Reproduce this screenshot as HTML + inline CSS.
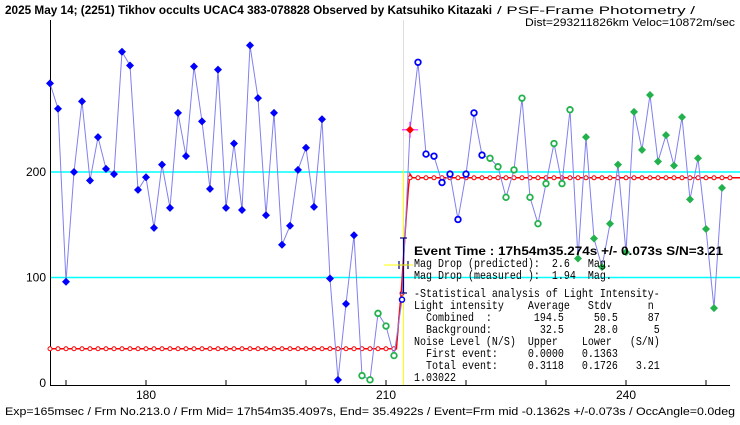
<!DOCTYPE html>
<html><head><meta charset="utf-8"><style>
html,body{margin:0;padding:0;background:#fff;}
svg{display:block;}
text{font-family:"Liberation Sans","Noto Sans CJK JP",sans-serif;}
.mono{font-family:"Liberation Mono","Noto Sans CJK JP",monospace;font-size:10px;fill:#000;white-space:pre;}
</style></head><body>
<svg id="chart" width="740" height="425" viewBox="0 0 740 425" xmlns="http://www.w3.org/2000/svg">
<rect x="0" y="0" width="740" height="425" fill="#fff"/>
<text x="5" y="14" font-size="12" font-weight="bold" textLength="487" lengthAdjust="spacingAndGlyphs">2025 May 14; (2251) Tikhov occults UCAC4 383-078828 Observed by Katsuhiko Kitazaki</text>
<text x="497" y="14" font-size="11" textLength="198" lengthAdjust="spacingAndGlyphs">/ PSF-Frame Photometry /</text>
<text x="525" y="26" font-size="11" textLength="210" lengthAdjust="spacingAndGlyphs">Dist=293211826km Veloc=10872m/sec</text>
<g id="plot"></g>
<text x="5" y="415" font-size="11" textLength="730" lengthAdjust="spacingAndGlyphs">Exp=165msec / Frm No.213.0 / Frm Mid= 17h54m35.4097s, End= 35.4922s / Event=Frm mid -0.1362s +/-0.073s / OccAngle=0.0deg</text>
</svg>
<script>
const frames = [];
for (let f = 168; f <= 253; f++) frames.push(f);
const intensity = [284,260,96,200,267,192,233,203,198,314,301,183,195,147,207,166,256,215,300,248,184,297,166,227,164,320,270,159,256,131,149,202,223,167,250,99,3,75,140,7,3,66,54,26,79,240,304,217,215,190,198,155,198,256,216,213,205,176,202,270,176,151,189,227,189,259,118,233,137,110,151,207,124,257,221,273,210,235,206,252,174,213,146,71,185];
const markerKind = [];
for (let i = 0; i < intensity.length; i++) {
  let k = 'blue-filled';
  if (i >= 39 && i <= 43) k = 'green-open';
  else if (i === 44) k = 'blue-small';
  else if (i === 45) k = 'red-filled';
  else if (i >= 46 && i <= 54) k = 'blue-open';
  else if (i >= 55 && i <= 65) k = 'green-open';
  else if (i >= 66) k = 'green-filled';
  markerKind.push(k);
}
const backgroundLevel = 32.5;
const upperLevel = 194.5;
const stepFrames = [211.3,211.6,211.9,212.2,212.5,212.8,213.0,213.3];
const stepValues = [32.5,60,85,120,155,185,198,194.5];
const refLines = [100,200];
const yTicks = [0,100,200];
const xTicks = [170,180,190,200,210,220,230,240,250];
const xLabels = [180,210,240];

const X = f => 50 + (f - 168) * 8;
const Y = v => 383 - 1.055 * v;
const NS = 'http://www.w3.org/2000/svg';
const g = document.getElementById('plot');
function el(tag, attrs, parent) {
  const e = document.createElementNS(NS, tag);
  for (const k in attrs) e.setAttribute(k, attrs[k]);
  (parent || g).appendChild(e);
  return e;
}
refLines.forEach(v => {
  const l = el('line', {x1:50, x2:740, y1:Y(v), y2:Y(v), stroke:'#00ffff', 'stroke-width':1.5});
  
  
});
const ev = el('line', {x1:403.5, x2:403.5, y1:20, y2:385, stroke:'#dddddd', 'stroke-width':1});


const evy = el('line', {x1:403.5, x2:403.5, y1:170, y2:385, stroke:'#ffff00', 'stroke-width':1});


const ya = el('line', {x1:50.5, x2:50.5, y1:20, y2:385, stroke:'#000', 'stroke-width':1});


const xa = el('line', {x1:50, x2:730, y1:385.5, y2:385.5, stroke:'#000', 'stroke-width':1});


xTicks.forEach(f => {
  const t = el('line', {x1:X(f), x2:X(f), y1:380, y2:385, stroke:'#000'});
  
  
});
xLabels.forEach(f => {
  const t = el('text', {x:X(f), y:399, 'font-size':12, 'text-anchor':'middle'});
  t.textContent = f;
  
  
});
yTicks.forEach(v => {
  const t = el('text', {x:46, y:Y(v)+4, 'font-size':12, 'text-anchor':'end'});
  t.textContent = v;
  
  
});
const mpts = [[X(frames[0]), Y(backgroundLevel)]];
stepFrames.forEach((f, i) => mpts.push([X(f), Y(stepValues[i])]));
mpts.push([740, Y(upperLevel)]);
const model = el('polyline', {points: mpts.map(p => p.join(',')).join(' '), fill:'none', stroke:'#ff0000', 'stroke-width':1.5});


frames.forEach(f => {
  let v = f < 212 ? backgroundLevel : (f === 212 ? 85 : upperLevel);
  const c = el('circle', {cx:X(f), cy:Y(v), r:2, fill:'#fff', stroke:'#ff0000', 'stroke-width':1});
  
  
});
const dl = el('polyline', {points: intensity.map((v, i) => X(frames[i]) + ',' + Y(v)).join(' '), fill:'none', stroke:'#8080f0', 'stroke-width':1});


const eb = el('g', {stroke:'#000080', 'stroke-width':1.2});


el('line', {x1:403.5, x2:403.5, y1:238, y2:293}, eb);
el('line', {x1:400, x2:407, y1:238, y2:238}, eb);
el('line', {x1:400, x2:407, y1:293, y2:293}, eb);
el('line', {x1:399, x2:408, y1:265, y2:265}, eb);
el('line', {x1:399, x2:399, y1:261, y2:269}, eb);
el('line', {x1:408, x2:408, y1:261, y2:269}, eb);
const yh = el('line', {x1:384, x2:413, y1:265, y2:265, stroke:'#ffff00', 'stroke-width':1});


function diamond(cx, cy, r) { return `${cx},${cy-r} ${cx+r},${cy} ${cx},${cy+r} ${cx-r},${cy}`; }
intensity.forEach((v, i) => {
  const cx = X(frames[i]), cy = Y(v), k = markerKind[i];
  let m;
  if (k === 'blue-filled') m = el('polygon', {points: diamond(cx, cy, 4), fill:'#0000ff'});
  else if (k === 'green-filled') m = el('polygon', {points: diamond(cx, cy, 4), fill:'#22b14c'});
  else if (k === 'green-open') m = el('circle', {cx, cy, r:2.8, fill:'#fff', stroke:'#22b14c', 'stroke-width':1.8});
  else if (k === 'blue-open') m = el('circle', {cx, cy, r:2.8, fill:'#fff', stroke:'#0000ff', 'stroke-width':1.8});
  else if (k === 'blue-small') m = el('circle', {cx, cy, r:2.5, fill:'#fff', stroke:'#0000ff', 'stroke-width':1.5});
  else {
    const h = el('g', {stroke:'#ff00ff', 'stroke-width':1});
    
    
    el('line', {x1:cx-8, x2:cx+8, y1:cy, y2:cy}, h);
    el('line', {x1:cx, x2:cx, y1:cy-8, y2:cy+8}, h);
    m = el('polygon', {points: diamond(cx, cy, 4), fill:'#ff0000'});
  }
  
  
});
const ev1 = el('text', {x:414, y:255, 'font-size':12, 'font-weight':'bold', textLength:309, lengthAdjust:'spacingAndGlyphs', 'font-family':'"Liberation Sans", sans-serif'});
ev1.textContent = 'Event Time : 17h54m35.274s  +/- 0.073s  S/N=3.21';


const lines = [
 ['Mag Drop (predicted):  2.6   Mag.', 267],
 ['Mag Drop (measured ):  1.94  Mag.', 279],
 ['-Statistical analysis of Light Intensity-', 297],
 ['Light intensity    Average   Stdv      n', 309],
 ['  Combined  :       194.5     50.5     87', 321],
 ['  Background:        32.5     28.0      5', 333],
 ['Noise Level (N/S)  Upper    Lower   (S/N)', 345],
 ['  First event:     0.0000   0.1363', 357],
 ['  Total event:     0.3118   0.1726   3.21', 369],
 ['1.03022', 381]
];
lines.forEach(([s, y]) => {
  const t = el('text', {x:414, y:y, class:'mono', 'xml:space':'preserve', transform:`translate(0,${y}) scale(1,1.15) translate(0,${-y})`});
  t.textContent = s;
  
  
});
</script>
</body></html>
